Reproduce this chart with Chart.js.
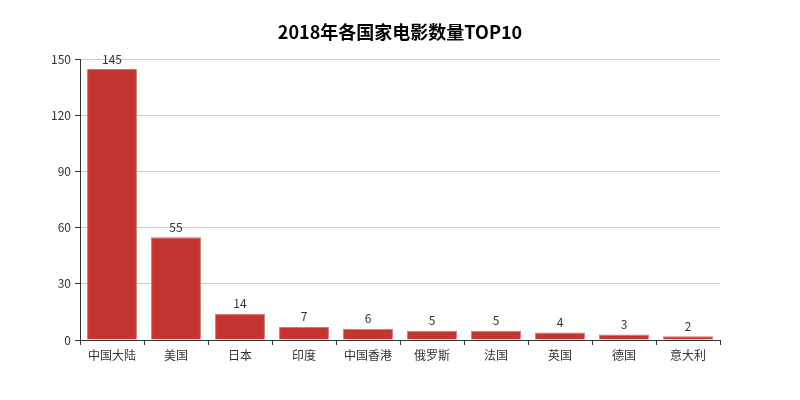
<!DOCTYPE html>
<html>
<head>
<meta charset="utf-8">
<script src="https://cdn.jsdelivr.net/npm/chart.js@4/dist/chart.umd.min.js"></script>
<style>
  html, body { margin: 0; padding: 0; background: #fff; }
  #wrap { width: 800px; height: 400px; }
</style>
</head>
<body>
<div id="wrap"><canvas id="movies"></canvas></div>
<script>
let countries = ['中国大陆', '美国', '日本', '印度', '中国香港', '俄罗斯', '法国', '英国', '德国', '意大利'];
let counts = [145, 55, 14, 7, 6, 5, 5, 4, 3, 2];
let yTicks = [0, 30, 60, 90, 120, 150];

const FONT = '"Noto Sans CJK SC", "Noto Sans", sans-serif';

// draw the value above every bar
const barLabels = {
    id: 'barLabels',
    afterDatasetsDraw(chart) {
        let ctx = chart.ctx;
        let meta = chart.getDatasetMeta(0);
        ctx.save();
        ctx.font = '12px ' + FONT;
        ctx.fillStyle = '#333';
        ctx.textAlign = 'center';
        ctx.textBaseline = 'bottom';
        meta.data.forEach(function(bar, i) {
            ctx.fillText(counts[i], bar.x, bar.y - 4);
        });
        ctx.restore();
    }
};

new Chart(document.getElementById('movies').getContext('2d'), {
    type: 'bar',
    data: {
        labels: countries,
        datasets: [{
            label: '数量',
            data: counts,
            backgroundColor: '#c23531',
            borderColor: '#d9716e',
            borderWidth: 1,
            barPercentage: 0.78,
            categoryPercentage: 1
        }]
    },
    options: {
        responsive: true,
        maintainAspectRatio: false,
        animation: false,
        layout: { padding: 0 },
        plugins: {
            legend: { display: false },
            tooltip: { enabled: false },
            title: {
                display: true,
                text: '2018年各国家电影数量TOP10',
                color: '#000',
                font: { family: FONT, size: 18, weight: 'bold' },
                padding: { top: 21, bottom: 17 }
            }
        },
        scales: {
            x: {
                offset: true,
                grid: {
                    offset: true,
                    drawOnChartArea: false,
                    tickLength: 5,
                    tickColor: '#333'
                },
                border: { color: '#333' },
                ticks: {
                    color: '#333',
                    font: { family: FONT, size: 12 },
                    padding: 3,
                    maxRotation: 0,
                    autoSkip: false
                },
                afterFit(scale) { scale.height = 60; }
            },
            y: {
                min: 0,
                max: 150,
                afterBuildTicks(scale) {
                    scale.ticks = yTicks.map(v => ({ value: v }));
                },
                grid: {
                    color: '#cccccc',
                    tickLength: 5,
                    tickColor: '#333'
                },
                border: { color: '#333' },
                ticks: {
                    color: '#333',
                    font: { family: FONT, size: 12 },
                    padding: 4
                },
                afterFit(scale) { scale.width = 80; }
            },
            // empty right-hand axis, only keeps the same margin as the left one
            spacer: {
                position: 'right',
                min: 0,
                max: 150,
                grid: { display: false },
                border: { display: false },
                ticks: { display: false },
                afterFit(scale) { scale.width = 80; }
            }
        }
    },
    plugins: [barLabels]
});
</script>
</body>
</html>
